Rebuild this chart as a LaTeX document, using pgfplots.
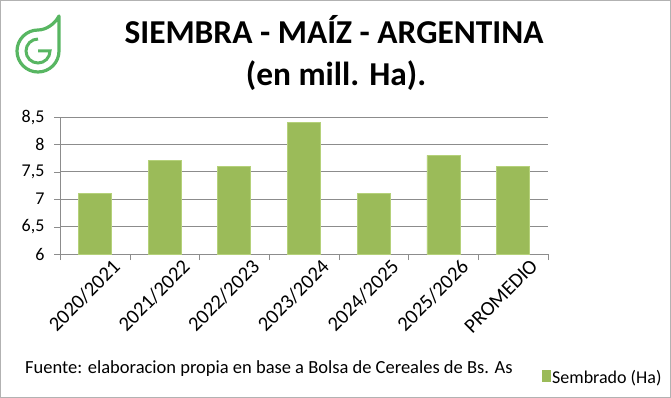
\documentclass[border=0pt]{standalone}
\usepackage{pgfplots}
\pgfplotsset{compat=1.18}
\usepackage{fontspec}
\setmainfont{Carlito}
\definecolor{barg}{HTML}{9BBB59}
\definecolor{baredge}{HTML}{B5D17A}
\definecolor{gridc}{HTML}{8C8C8C}
\definecolor{logog}{RGB}{88,182,98}
\begin{document}
\begin{tikzpicture}[x=1pt,y=1pt]
\useasboundingbox (0,0) rectangle (671,-398);
\draw[gray!60, line width=1.2pt] (0.6,-0.6) rectangle (670.4,-397.4);
% logo
\draw[logog, line width=3.2pt, line join=round] (59,-16) -- (59,-51) arc (0:-270:21) .. controls (46,-30) and (55,-24) .. cycle;
\draw[logog, line width=3pt] (38,-39) arc (90:360:12) -- (38,-51);
% titles
\node[anchor=base, font=\fontsize{33.4}{36}\selectfont\bfseries] at (334,-44) {SIEMBRA - MAÍZ - ARGENTINA};
\node[anchor=base, font=\fontsize{33.4}{36}\selectfont\bfseries] at (336,-86) {(en mill. Ha).};
\begin{axis}[
  at={(60pt,-254pt)}, anchor=south west,
  scale only axis, width=488pt, height=137pt,
  xmin=-0.5, xmax=6.5, ymin=6, ymax=8.5,
  ytick={6,6.5,7,7.5,8,8.5},
  /pgf/number format/.cd, use comma, fixed, assume math mode=true,
  /pgfplots/.cd,
  yticklabel style={font=\fontsize{18}{20}\selectfont, xshift=-6pt},
  xtick={0,...,6},
  xticklabels={2020/2021,2021/2022,2022/2023,2023/2024,2024/2025,2025/2026,PROMEDIO},
  xticklabel style={font=\fontsize{20.5}{22}\selectfont, rotate=45, anchor=north east, inner sep=0pt, xshift=13pt, yshift=-10pt},
  major x tick style={draw=none},
  extra x ticks={-0.5,0.5,1.5,2.5,3.5,4.5,5.5,6.5},
  extra x tick labels={},
  extra x tick style={grid=none, major x tick style={draw=gridc}},
  y tick style={draw=gridc}, tick align=outside, major tick length=6pt,
  ymajorgrids, grid style={gridc, line width=0.8pt},
  axis lines*=left, axis line style={gridc, line width=0.8pt},
  ybar, bar width=33pt,
  legend style={at={(0.988,-0.84)}, anchor=north west, draw=none, fill=none, font=\fontsize{18}{20}\selectfont, inner sep=0pt, row sep=0pt, nodes={inner sep=1pt}},
  legend image code/.code={\fill[barg] (0pt,-4pt) rectangle (8pt,7pt);},
]
\addplot[fill=barg, draw=baredge, line width=0.8pt] coordinates {(0,7.1) (1,7.7) (2,7.6) (3,8.4) (4,7.1) (5,7.8) (6,7.6)};
\addlegendentry{Sembrado (Ha)}
\end{axis}
\node[anchor=base west, inner sep=0pt, font=\fontsize{18.5}{20}\selectfont] at (25,-373) {Fuente: elaboracion propia en base a Bolsa de Cereales de Bs. As};
\end{tikzpicture}
\end{document}
